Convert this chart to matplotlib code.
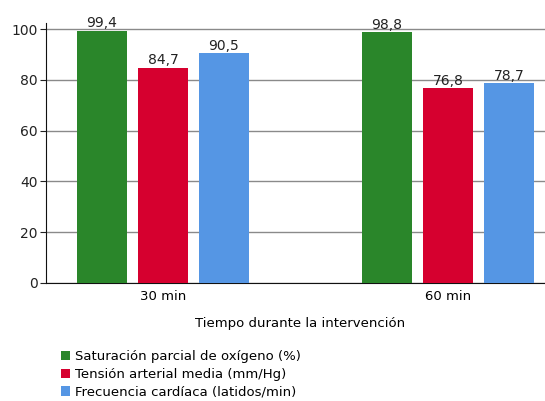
import matplotlib.pyplot as plt
import numpy as np

GROUPS = ['30 min', '60 min']
SERIES = ['Saturación parcial de oxígeno (%)',
          'Tensión arterial media (mm/Hg)',
          'Frecuencia cardíaca (latidos/min)']
VALUES = [
    [99.4, 98.8],
    [84.7, 76.8],
    [90.5, 78.7],
]
COLORS = ['#2a862a', '#d6002f', '#5596e4']

plt.rcParams['font.family'] = 'DejaVu Sans'
plt.rcParams['font.size'] = 9

fig = plt.figure(figsize=(5.45, 4.01), dpi=100)
ax = fig.add_axes([0.0844, 0.2943, 0.9156, 0.6483])

x = np.arange(len(GROUPS))
width = 0.175
step = 0.214
for i, (name, vals, col) in enumerate(zip(SERIES, VALUES, COLORS)):
    pos = x + (i - 1) * step
    bars = ax.bar(pos, vals, width, color=col, label=name, zorder=3)
    for b, v in zip(bars, vals):
        ax.text(b.get_x() + b.get_width() / 2, v + 0.2, f'{v:.1f}'.replace('.', ','),
                ha='center', va='bottom', fontsize=10, color='#222222', zorder=4)

ax.set_xlim(-0.41, 1.34)
ax.set_ylim(0, 102.4)
ax.set_yticks([0, 20, 40, 60, 80, 100])
ax.set_xticks(x)
ax.set_xticklabels(GROUPS)
ax.yaxis.grid(True, color='#8a8a8a', linewidth=1, zorder=0)
ax.tick_params(axis='y', length=4, pad=2, labelsize=10, colors='#222222')
ax.tick_params(axis='x', length=0, pad=5, labelsize=9.5)
for s in ['top', 'right']:
    ax.spines[s].set_visible(False)
ax.spines['left'].set_color('#111111')
ax.spines['bottom'].set_color('#111111')

fig.text(0.55, 1 - 323 / 401, 'Tiempo durante la intervención', ha='center', va='center', fontsize=9.5)

fig.legend(loc='upper left', bbox_to_anchor=(0.112, 1 - 350 / 401), frameon=False,
           handlelength=0.7, handleheight=0.7, handletextpad=0.35, labelspacing=0.36,
           borderaxespad=0, borderpad=0, fontsize=9.5)

fig.savefig('out.png', dpi=100)
